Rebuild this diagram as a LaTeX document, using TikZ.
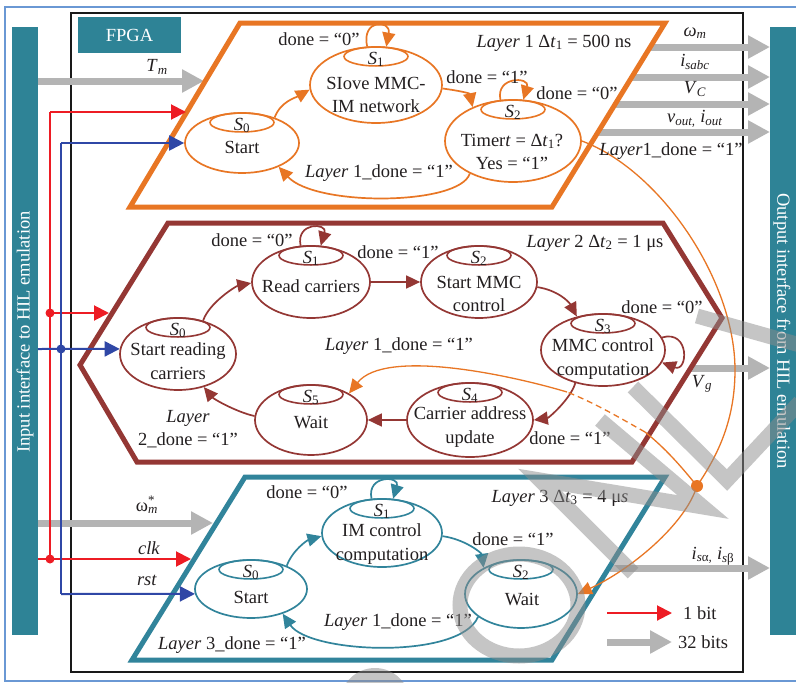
\documentclass[tikz,border=0pt]{standalone}
\usepackage{fontspec}
\setmainfont{Liberation Serif}
\usetikzlibrary{arrows.meta,shapes.geometric}
\definecolor{corg}{HTML}{E87624}
\definecolor{cbrn}{HTML}{943734}
\definecolor{ctel}{HTML}{31849B}
\definecolor{cbar}{HTML}{2E8396}
\definecolor{cred}{HTML}{ED1C24}
\definecolor{cblu}{HTML}{2F47A6}
\definecolor{cgry}{HTML}{B4B4B4}
\definecolor{cbdr}{HTML}{6A98D4}
\definecolor{ctxt}{HTML}{231F20}
\newcommand\sv[1]{\textit{S}\textsubscript{#1}}
\begin{document}
\begin{tikzpicture}[x=1pt,y=-1pt,
  font=\fontsize{18.5}{23.5}\selectfont,
  every node/.style={text=ctxt, inner sep=0pt, align=center},
  stbox/.style={ellipse, draw, line width=1.7pt, inner sep=0pt},
  st1/.style={stbox, draw=corg},
  st2/.style={stbox, draw=cbrn},
  st3/.style={stbox, draw=ctel},
  subel/.style={ellipse, draw, line width=1.6pt, inner sep=0pt, minimum width=64pt, minimum height=19pt, anchor=north},
  tarr/.style={line width=1.7pt, -{Triangle[length=14pt,width=13pt]}},
  layer/.style={line width=5pt, line join=miter},
  garr/.style={draw=cgry, line width=7pt, -{Triangle[length=22pt,width=22pt]}},
  sarr/.style={line width=2pt, -{Triangle[length=15pt,width=15pt]}},
  dotn/.style={circle, inner sep=0pt, minimum size=9pt},
  oline/.style={draw=corg, line width=1.3pt},
  wm/.style={draw=black!45, line width=15pt, opacity=0.5},
]
\useasboundingbox (0,0) rectangle (796,683);
\fill[white] (0,0) rectangle (796,683);

% frames
\draw[cbdr, line width=2.5pt] (5,7) rectangle (810,681);
\fill[cbar] (12,27) rectangle (38,635);
\fill[cbar] (770,27) rectangle (810,635);
\node[rotate=90, text=white] (inT) at (25,332) {Input interface to HIL emulation};
\node[rotate=-90, text=white] (outT) at (782,331) {Output interface from HIL emulation};
\draw[black!90, line width=2pt] (71,13) rectangle (743,672);
\node[fill=cbar, text=white, minimum width=103pt, minimum height=36pt] (fpga) at (129.5,35) {FPGA};

% gray data arrows
\coordinate (tmS) at (38,81);  \coordinate (tmE) at (204,81);
\coordinate (wsS) at (38,523); \coordinate (wsE) at (213,523);
\draw[garr] (tmS) -- (tmE);
\draw[garr] (wsS) -- (wsE);
\coordinate (o1s) at (650,47);  \coordinate (o1e) at (770,47);
\coordinate (o2s) at (632,77);  \coordinate (o2e) at (770,77);
\coordinate (o3s) at (615,104); \coordinate (o3e) at (770,104);
\coordinate (o4s) at (598,132); \coordinate (o4e) at (770,132);
\coordinate (o5s) at (691,368); \coordinate (o5e) at (770,368);
\coordinate (o6s) at (610,568); \coordinate (o6e) at (770,568);
\draw[garr] (o1s) -- (o1e);
\draw[garr] (o2s) -- (o2e);
\draw[garr] (o3s) -- (o3e);
\draw[garr] (o4s) -- (o4e);
\draw[garr] (o5s) -- (o5e);
\draw[garr] (o6s) -- (o6e);

% layers
\draw[layer, corg] (240,23) -- (665,23) -- (552,207) -- (130,207) -- cycle;
\draw[layer, cbrn] (168,223) -- (663,223) -- (722,318) -- (632,462) -- (137,462) -- (80,365) -- cycle;
\draw[layer, ctel] (245,477) -- (665,477) -- (552,660) -- (132,660) -- cycle;

% ---------- Layer 1 states
\node[st1, minimum width=114pt, minimum height=60pt] (s10) at (242,143) {};
\node[st1, minimum width=132pt, minimum height=76pt] (s11) at (376,85) {};
\node[st1, minimum width=136pt, minimum height=82pt] (s12) at (513,141) {};
\node[subel, draw=corg] (s10i) at (s10.north) {};
\node[subel, draw=corg] (s11i) at (s11.north) {};
\node[subel, draw=corg] (s12i) at (s12.north) {};
\node (s10l) at ([yshift=-3pt]s10i.center) {\sv{0}};
\node (s11l) at ([yshift=-3pt]s11i.center) {\sv{1}};
\node (s12l) at ([yshift=-3pt]s12i.center) {\sv{2}};
\node (s10t) at (242,147) {Start};
\node (s11t) at (376,95) {SIove MMC-\\IM network};
\node (s12t) at (512,152) {Timer\textit{t} = Δ\textit{t}\textsubscript{1}?\\Yes = “1”};

\draw[tarr, corg] (s10.38) .. controls +(6,-16) and +(-14,8) .. (s11.184);
\draw[tarr, corg] (s11.357) .. controls +(15,2) and +(-3,-14) .. (s12.140);
\draw[tarr, corg] (s12.217) .. controls +(-10,32) and +(37,40) .. (s10.327);
\draw[tarr, corg] (s11.103) .. controls +(-6,-28) and +(5,-27) .. (s11.75);
\draw[tarr, corg] (s12.107) .. controls +(-5,-24) and +(7,-23) .. (s12.76);

\node (l1a) at (319,39) {done = “0”};
\node (l1b) at (487,77) {done = “1”};
\node (l1c) at (577,93) {done = “0”};
\node (l1d) at (554,43) {\textit{Layer} 1 Δ\textit{t}\textsubscript{1} = 500 ns};
\node (l1e) at (379,173) {\textit{Layer} 1\_done = “1”};

% ---------- Layer 2 states
\node[st2, minimum width=116pt, minimum height=72pt] (s20) at (178,354) {};
\node[st2, minimum width=118pt, minimum height=72pt] (s21) at (311,282) {};
\node[st2, minimum width=116pt, minimum height=72pt] (s22) at (479,282) {};
\node[st2, minimum width=124pt, minimum height=72pt] (s23) at (603,350) {};
\node[st2, minimum width=126pt, minimum height=74pt] (s24) at (470,420) {};
\node[st2, minimum width=112pt, minimum height=70pt] (s25) at (311,420) {};
\foreach \n/\k in {s20/0,s21/1,s22/2,s23/3,s24/4,s25/5}{
  \node[subel, draw=cbrn] (\n i) at (\n.north) {};
  \node (\n l) at ([yshift=-3pt]\n i.center) {\sv{\k}};
}
\node (s20t) at (178,361) {Start reading\\carriers};
\node (s21t) at (311,286) {Read carriers};
\node (s22t) at (479,294) {Start MMC\\control};
\node (s23t) at (603,359) {MMC control\\computation};
\node (s24t) at (470,427) {Carrier address\\update};
\node (s25t) at (311,423) {Wait};

\draw[tarr, cbrn] (s20.53) .. controls +(6,-18) and +(-15,3) .. (s21.181);
\draw[tarr, cbrn] (s21.east) -- (s22.west);
\draw[tarr, cbrn] (s22.355) .. controls +(20,3) and +(-8,-15) .. (s23.128);
\draw[tarr, cbrn] (s23.12) .. controls +(28,-8) and +(26,10) .. (s23.-12);
\draw[tarr, cbrn] (s23.230) .. controls +(-4,15) and +(15,-2) .. (s24.east);
\draw[tarr, cbrn] (s24.west) -- (s25.east);
\draw[tarr, cbrn] (s25.176) .. controls +(-18,-4) and +(10,12) .. (s20.308);
\draw[tarr, cbrn] (s21.106) .. controls +(-5,-24) and +(7,-23) .. (s21.75);

\node (l2a) at (252,240) {done = “0”};
\node (l2b) at (398,252) {done = “1”};
\node (l2c) at (595,243) {\textit{Layer} 2 Δ\textit{t}\textsubscript{2} = 1 μs};
\node (l2d) at (662,307) {done = “0”};
\node (l2e) at (570,438) {done = “1”};
\node (l2f) at (399,346) {\textit{Layer} 1\_done = “1”};
\node (l2g) at (188,429) {\textit{Layer}\\2\_done = “1”};

% ---------- Layer 3 states
\node[st3, minimum width=112pt, minimum height=58pt] (s30) at (251,589) {};
\node[st3, minimum width=120pt, minimum height=68pt] (s31) at (382,533) {};
\node[st3, minimum width=112pt, minimum height=68pt] (s32) at (521,594) {};
\foreach \n/\k in {s30/0,s31/1,s32/2}{
  \node[subel, draw=ctel] (\n i) at (\n.north) {};
  \node (\n l) at ([yshift=-3pt]\n i.center) {\sv{\k}};
}
\node (s30t) at (251,597) {Start};
\node (s31t) at (382,544) {IM control\\computation};
\node (s32t) at (522,600) {Wait};

\draw[tarr, ctel] (s30.33) .. controls +(6,-16) and +(-14,4) .. (s31.183);
\draw[tarr, ctel] (s31.357) .. controls +(22,3) and +(-2,-15) .. (s32.145);
\draw[tarr, ctel] (s32.208) .. controls +(-18,43) and +(27,40) .. (s30.322);
\draw[tarr, ctel] (s31.107) .. controls +(-5,-24) and +(7,-23) .. (s31.72);

\node (l3a) at (307,492) {done = “0”};
\node (l3b) at (513,539) {done = “1”};
\node (l3c) at (560,498) {\textit{Layer} 3 Δ\textit{t}\textsubscript{3} = 4 μ\textit{s}};
\node (l3d) at (398,622) {\textit{Layer} 1\_done = “1”};
\node (l3e) at (232,645) {\textit{Layer} 3\_done = “1”};

% ---------- Layer1_done distribution
\node[circle, fill=corg, inner sep=0pt, minimum size=12pt] (jd) at (697,486) {};
\coordinate (ob) at (735,370);
\coordinate (oa) at (645,432);
\coordinate (oc) at (567,392);
\draw[oline] (s12.east) .. controls (660,170) and (735,280) .. (ob) .. controls (735,420) and (718,455) .. (jd.center);
\draw[oline, -{Triangle[length=14pt,width=13pt]}] (jd.center) .. controls (685,525) and (630,570) .. (s32.east);
\draw[oline] (jd.center) .. controls (680,465) and (665,448) .. (oa);
\draw[oline, dash pattern=on 6pt off 4pt] (oa) .. controls (620,418) and (595,403) .. (oc);
\draw[oline, -{Triangle[length=14pt,width=13pt]}] (oc) .. controls (510,375) and (385,348) .. (s25.35);

% ---------- clk / rst lines
\coordinate (rtop) at (50,112);
\coordinate (rsrc) at (38,559);
\coordinate (l1r) at (186,112);
\coordinate (l2r) at (109,313);
\coordinate (l3r) at (191,559);
\node[dotn, fill=cred] (rd1) at (50,313) {};
\node[dotn, fill=cred] (rd2) at (50,559) {};
\draw[cred, line width=2pt] (rsrc) -- (rd2.center) -- (rtop);
\draw[sarr, cred] (rtop) -- (l1r);
\draw[sarr, cred] (rd1.center) -- (l2r);
\draw[sarr, cred] (rd2.center) -- (l3r);

\coordinate (btop) at (61,143);
\coordinate (bbot) at (61,594);
\coordinate (bsrc) at (38,349);
\node[dotn, fill=cblu] (bd1) at (61,349) {};
\draw[cblu, line width=2pt] (btop) -- (bbot);
\draw[sarr, cblu] (btop) -- (s10.west);
\draw[sarr, cblu] (bsrc) -- (s20.175);
\draw[sarr, cblu] (bbot) -- (s30.185);

% ---------- signal labels
\node (lTm) at (157,67) {\textit{T}\textsubscript{\textit{m}}};
\node (lwsm) at (147,505) {ω\rlap{\textsuperscript{*}}\textsubscript{\textit{m}}};
\node (lclk) at (149,548) {\textit{clk}};
\node (lrst) at (147,580) {\textit{rst}};
\node (lwm) at (695,33) {\textit{ω}\textsubscript{\textit{m}}};
\node (lis) at (695,62) {\textit{i}\textsubscript{\textit{sabc}}};
\node (lvc) at (695,89) {\textit{V}\textsubscript{\textit{C}}};
\node (lvo) at (695,119) {\textit{v}\textsubscript{\textit{out,}} \textit{i}\textsubscript{\textit{out}}};
\node (lL1) at (671,151) {\textit{Layer}1\_done = “1”};
\node (lvg) at (702,384) {\textit{V}\textsubscript{\textit{g}}};
\node (lisab) at (713,556) {\textit{i}\textsubscript{\textit{s}α\textit{,}} \textit{i}\textsubscript{\textit{s}β}};

% ---------- legend
\coordinate (lg1s) at (607,613); \coordinate (lg1e) at (672,613);
\coordinate (lg2s) at (607,642); \coordinate (lg2e) at (672,642);
\draw[sarr, cred] (lg1s) -- (lg1e);
\draw[garr] (lg2s) -- (lg2e);
\node[anchor=west] (lg1t) at (683,613) {1 bit};
\node[anchor=west] (lg2t) at (678,642) {32 bits};

% ---------- watermark strokes
\draw[wm] (519,605) ellipse [x radius=59pt, y radius=51pt];
\fill[black!45, opacity=0.5] (375,703) circle [radius=35pt];
\draw[wm, line join=miter] (600,420) -- (703,507) -- (540,480) -- (633,573);
\draw[wm, line join=miter] (633,387) -- (727,480) -- (800,402);
\draw[wm] (697,316) -- (800,345);
\end{tikzpicture}
\end{document}
